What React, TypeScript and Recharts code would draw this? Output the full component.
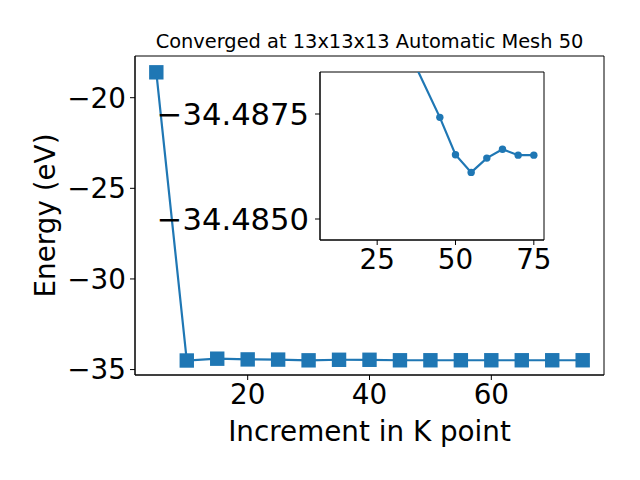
import React from 'react';
import { LineChart, Line, XAxis, YAxis, ReferenceArea, Label } from 'recharts';

const kPoints = [5, 10, 15, 20, 25, 30, 35, 40, 45, 50, 55, 60, 65, 70, 75];
const energies = [-18.6, -34.5, -34.4, -34.44, -34.45, -34.49, -34.46, -34.46, -34.4874, -34.4865, -34.4861, -34.4865, -34.4867, -34.4865, -34.4865];

const insetK = [35, 45, 50, 55, 60, 65, 70, 75];
const insetE = [-34.489, -34.48742, -34.48653, -34.48611, -34.48645, -34.48666, -34.48652, -34.48652];

const mainXTicks = [20, 40, 60];
const mainYTicks = [-35, -30, -25, -20];
const insetXTicks = [25, 50, 75];
const insetYTicks = [-34.4875, -34.485];

const title = 'Converged at 13x13x13 Automatic Mesh 50';
const xTitle = 'Increment in K point';
const yTitle = 'Energy (eV)';

const mainData = kPoints.map((k, i) => ({ k, e: energies[i] }));
const insetData = insetK.map((k, i) => ({ k, e: insetE[i] }));

const BLUE = '#1f77b4';
const FONT = 'DejaVu Sans';
const BIG = 27.8;
const INSET_Y = 30.6;

const fmtInt = (v: number) => (v < 0 ? `\u2212${Math.abs(v)}` : `${v}`);
const fmt4 = (v: number) => (v < 0 ? `\u2212${Math.abs(v).toFixed(4)}` : v.toFixed(4));

const SquareDot = (props: any) => {
  const { cx, cy, index } = props;
  if (cx == null || cy == null) return null;
  return <rect key={`sq-${index}`} x={cx - 7.2} y={cy - 7.2} width={14.4} height={14.4} fill={BLUE} />;
};

const CircleDot = (props: any) => {
  const { cx, cy, index } = props;
  if (cx == null || cy == null) return null;
  return <circle key={`c-${index}`} cx={cx} cy={cy} r={3.7} fill={BLUE} />;
};

const tickStyle = { fill: '#000', fontSize: BIG, fontFamily: FONT };
const insetYTickStyle = { fill: '#000', fontSize: INSET_Y, fontFamily: FONT };

export default function App() {
  const xDom: [number, number] = [1.5, 78.5];
  const yDom: [number, number] = [-35.3, -17.7];
  const ixDom: [number, number] = [6.75, 78.25];
  const iyDom: [number, number] = [-34.4885, -34.4845];
  return (
    <div style={{ position: 'absolute', left: 0, top: 0, width: 640, height: 480, background: '#fff', fontFamily: FONT }}>
      <div style={{ position: 'absolute', left: 0, top: 0 }}>
        <LineChart width={640} height={480} data={mainData} margin={{ top: 56, right: 36, bottom: 45, left: 0 }}>
          <XAxis
            dataKey="k"
            type="number"
            domain={xDom}
            ticks={mainXTicks}
            height={60}
            tickSize={5}
            tickMargin={4}
            tick={tickStyle}
            axisLine={{ stroke: '#000' }}
            tickLine={{ stroke: '#000' }}
            allowDataOverflow
            tickFormatter={fmtInt}
          >
            <Label
              content={(p: any) => {
                const vb = p.viewBox || {};
                return (
                  <text x={vb.x + vb.width / 2} y={vb.y + 66} textAnchor="middle" fontSize={BIG} fontFamily={FONT} fill="#000">
                    {xTitle}
                  </text>
                );
              }}
            />
          </XAxis>
          <YAxis
            type="number"
            domain={yDom}
            ticks={mainYTicks}
            width={135}
            tickSize={5}
            tickMargin={4}
            tick={tickStyle}
            axisLine={{ stroke: '#000' }}
            tickLine={{ stroke: '#000' }}
            allowDataOverflow
            tickFormatter={fmtInt}
          >
            <Label
              content={(p: any) => {
                const vb = p.viewBox || {};
                const cx = vb.x + 45;
                const cy = vb.y + vb.height / 2;
                return (
                  <text x={cx} y={cy} transform={`rotate(-90 ${cx} ${cy})`} textAnchor="middle" dominantBaseline="central" fontSize={BIG} fontFamily={FONT} fill="#000">
                    {yTitle}
                  </text>
                );
              }}
            />
          </YAxis>
          <ReferenceArea
            x1={xDom[0]}
            x2={xDom[1]}
            y1={yDom[0]}
            y2={yDom[1]}
            fill="none"
            stroke="#000"
            ifOverflow="visible"
            label={{ value: title, position: 'top', offset: 8, fontSize: 19.4, fill: '#000', fontFamily: FONT }}
          />
          <Line dataKey="e" stroke={BLUE} strokeWidth={2.2} dot={SquareDot} isAnimationActive={false} />
        </LineChart>
      </div>
      <div style={{ position: 'absolute', left: 130, top: 62 }}>
        <LineChart width={450} height={228} data={insetData} margin={{ top: 10, right: 36, bottom: 0, left: 0 }}>
          <ReferenceArea
            x1={ixDom[0]}
            x2={ixDom[1]}
            y1={iyDom[0]}
            y2={iyDom[1]}
            fill="#fff"
            fillOpacity={1}
            stroke="#000"
            ifOverflow="visible"
          />
          <XAxis
            dataKey="k"
            type="number"
            domain={ixDom}
            ticks={insetXTicks}
            height={50}
            tickSize={5}
            tickMargin={4}
            tick={tickStyle}
            axisLine={{ stroke: '#000' }}
            tickLine={{ stroke: '#000' }}
            allowDataOverflow
          />
          <YAxis
            type="number"
            domain={iyDom}
            reversed
            ticks={insetYTicks}
            width={190}
            tickSize={5}
            tickMargin={6}
            tick={insetYTickStyle}
            axisLine={{ stroke: '#000' }}
            tickLine={{ stroke: '#000' }}
            allowDataOverflow
            tickFormatter={fmt4}
          />
          <Line dataKey="e" stroke={BLUE} strokeWidth={2.2} dot={CircleDot} isAnimationActive={false} />
        </LineChart>
      </div>
    </div>
  );
}
